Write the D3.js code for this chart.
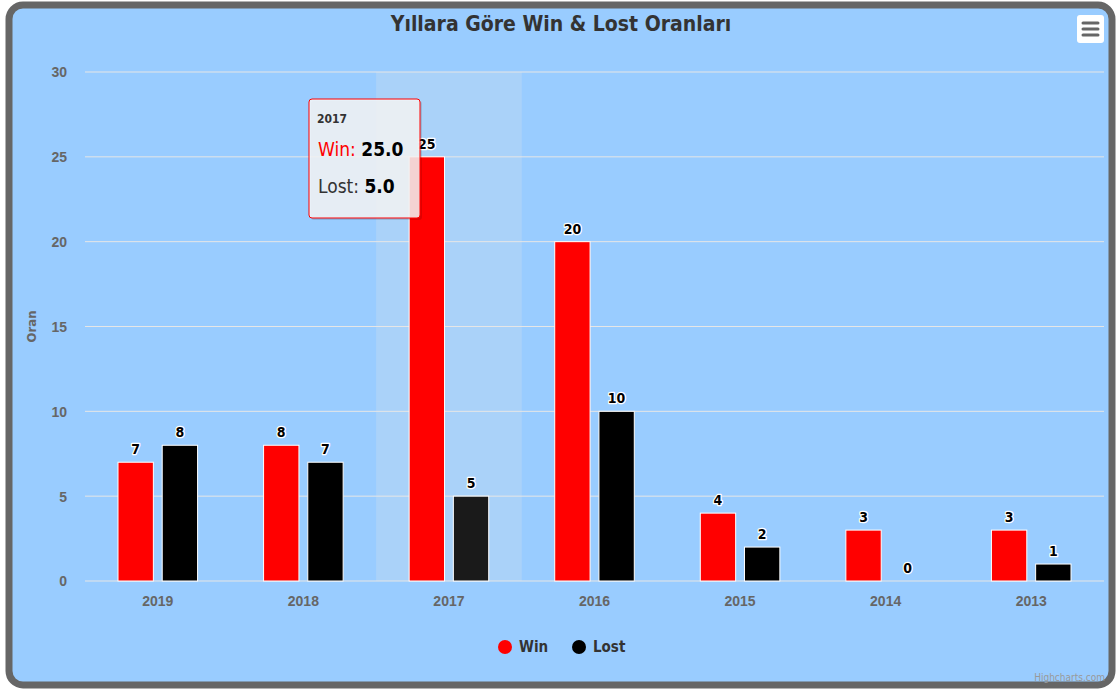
<!DOCTYPE html>
<html>
<head>
<meta charset="utf-8">
<script src="https://cdn.jsdelivr.net/npm/d3@7"></script>
<style>
  body { margin: 0; background: #fff; }
  svg { display: block; font-family: "DejaVu Sans Condensed", "DejaVu Sans", sans-serif; }
</style>
</head>
<body>
<svg id="chart" width="1117" height="689"></svg>
<script>
// data
var years = ['2019', '2018', '2017', '2016', '2015', '2014', '2013'];
var winValues = [7, 8, 25, 20, 4, 3, 3];
var lostValues = [8, 7, 5, 10, 2, 0, 1];
var yTicks = [0, 5, 10, 15, 20, 25, 30];
var seriesNames = ['Win', 'Lost'];
var seriesColors = ['#ff0000', '#000000'];

var svg = d3.select('#chart');
var W = 1117, H = 689;

// outer frame
svg.append('rect').attr('x', 0).attr('y', 0).attr('width', W).attr('height', H).attr('fill', '#ffffff');
svg.append('rect')
    .attr('x', 9).attr('y', 5).attr('width', W - 14).attr('height', H - 9)
    .attr('rx', 14).attr('ry', 14)
    .attr('fill', '#99ccff').attr('stroke', '#666666').attr('stroke-width', 7);

var padding = {t: 72, r: 13, b: 108, l: 85};
var chartWidth = W - padding.l - padding.r;
var chartHeight = H - padding.t - padding.b;

var chartG = svg.append('g')
    .attr('transform', 'translate(' + [padding.l, padding.t] + ')');

var xScale = d3.scaleBand().domain(years).range([0, chartWidth]);
var xInner = d3.scaleBand().domain(seriesNames)
    .range([33, xScale.bandwidth() - 33]).paddingInner(0.2);
var yScale = d3.scaleLinear().domain([0, 30]).range([chartHeight, 0]);

// hover band for 2017
chartG.append('rect')
    .attr('x', xScale('2017')).attr('y', 0)
    .attr('width', xScale.bandwidth()).attr('height', chartHeight)
    .attr('fill', '#ccddee').attr('opacity', 0.35);

// grid lines
chartG.selectAll('.grid').data(yTicks).enter().append('line')
    .attr('class', 'grid')
    .attr('x1', 0).attr('x2', chartWidth)
    .attr('y1', function(d) { return yScale(d); })
    .attr('y2', function(d) { return yScale(d); })
    .attr('stroke', '#e6e6e6').attr('stroke-width', 1);

// y axis labels
var yAx = chartG.append('g').call(d3.axisLeft(yScale).tickValues(yTicks).tickSize(0).tickPadding(18));
yAx.select('.domain').remove();
yAx.selectAll('text')
    .attr('fill', '#666666').style('font-size', '14px').style('font-weight', 'bold')
    .attr('dy', '0.35em');

svg.append('text')
    .attr('transform', 'translate(36,' + (padding.t + chartHeight / 2) + ') rotate(-90)')
    .attr('text-anchor', 'middle')
    .attr('fill', '#666666').style('font-size', '13px').style('font-weight', 'bold')
    .text('Oran');

// x axis labels
var xAx = chartG.append('g')
    .attr('transform', 'translate(0,' + chartHeight + ')')
    .call(d3.axisBottom(xScale).tickSize(0).tickPadding(15));
xAx.select('.domain').remove();
xAx.selectAll('text')
    .attr('fill', '#666666').style('font-size', '14px').style('font-weight', 'bold');

// bars
var series = [winValues, lostValues];
series.forEach(function(vals, si) {
    var name = seriesNames[si];
    chartG.selectAll('.bar-' + name).data(vals).enter().append('rect')
        .attr('class', 'bar-' + name)
        .attr('x', function(d, i) { return xScale(years[i]) + xInner(name); })
        .attr('y', function(d) { return yScale(d); })
        .attr('width', xInner.bandwidth())
        .attr('height', function(d) { return chartHeight - yScale(d); })
        .attr('fill', function(d, i) { return (si === 1 && years[i] === '2017') ? '#1a1a1a' : seriesColors[si]; })
        .attr('stroke', '#ffffff').attr('stroke-width', 1);

    chartG.selectAll('.lbl-' + name).data(vals).enter().append('text')
        .attr('class', 'lbl-' + name)
        .attr('x', function(d, i) { return xScale(years[i]) + xInner(name) + xInner.bandwidth() / 2; })
        .attr('y', function(d) { return yScale(d) - 8; })
        .attr('text-anchor', 'middle')
        .style('font-size', '14px').style('font-weight', 'bold')
        .attr('fill', '#000').attr('stroke', '#fff').attr('stroke-width', 2.5)
        .attr('paint-order', 'stroke').attr('stroke-linejoin', 'round')
        .text(function(d) { return d; });
});

// title
svg.append('text')
    .attr('x', 561).attr('y', 31)
    .attr('text-anchor', 'middle')
    .attr('fill', '#333333').style('font-size', '21px').style('font-weight', 'bold')
    .text('Yıllara Göre Win & Lost Oranları');

// menu button
var menu = svg.append('g').attr('transform', 'translate(1077,15)');
menu.append('rect').attr('width', 27).attr('height', 28).attr('rx', 3).attr('fill', '#ffffff');
[8, 14, 20].forEach(function(y) {
    menu.append('line').attr('x1', 6).attr('x2', 21).attr('y1', y).attr('y2', y)
        .attr('stroke', '#666666').attr('stroke-width', 3).attr('stroke-linecap', 'round');
});

// legend
var legendG = svg.append('g').attr('transform', 'translate(0,647)');
var legendX = [505, 579];
seriesNames.forEach(function(name, i) {
    legendG.append('circle').attr('cx', legendX[i]).attr('cy', 0).attr('r', 7).attr('fill', seriesColors[i]);
    legendG.append('text').attr('x', legendX[i] + 14).attr('y', 5)
        .attr('fill', '#333333').style('font-size', '15px').style('font-weight', 'bold')
        .text(name);
});

// credits
svg.append('text')
    .attr('x', 1105).attr('y', 681).attr('text-anchor', 'end')
    .attr('fill', '#999999').style('font-size', '10px')
    .text('Highcharts.com');

// tooltip
var tip = svg.append('g').attr('transform', 'translate(309,99)');
tip.append('rect').attr('x', 2).attr('y', 2).attr('width', 111).attr('height', 119).attr('rx', 3)
    .attr('fill', '#000').attr('opacity', 0.12);
tip.append('rect').attr('width', 111).attr('height', 119).attr('rx', 3)
    .attr('fill', 'rgba(247,247,247,0.85)').attr('stroke', '#ff0000').attr('stroke-width', 1);
tip.append('text').attr('x', 8).attr('y', 24).attr('fill', '#333').style('font-size', '12px').style('font-weight', 'bold')
    .text(years[2]);
var t1 = tip.append('text').attr('x', 9).attr('y', 57).style('font-size', '19px');
t1.append('tspan').attr('fill', '#ff0000').text(seriesNames[0] + ': ');
t1.append('tspan').attr('fill', '#000').style('font-weight', 'bold').text(winValues[2].toFixed(1));
var t2 = tip.append('text').attr('x', 9).attr('y', 94).style('font-size', '19px');
t2.append('tspan').attr('fill', '#333').text(seriesNames[1] + ': ');
t2.append('tspan').attr('fill', '#000').style('font-weight', 'bold').text(lostValues[2].toFixed(1));
</script>
</body>
</html>
